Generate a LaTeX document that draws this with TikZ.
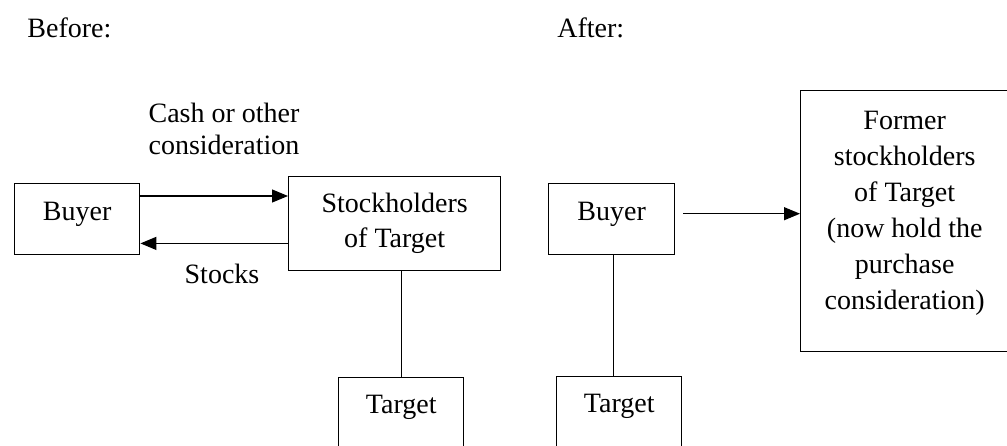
\documentclass[tikz,border=0pt]{standalone}
\usepackage{fontspec}
\setmainfont{Liberation Serif}
\usetikzlibrary{arrows.meta}
\usetikzlibrary{positioning}

\tikzset{
    party/.style={
        rectangle, anchor=north west, align=center,
        inner sep=0pt, draw=black, line width=0.7pt,
        font=\fontsize{14}{17.5}\selectfont,
    },
    flow/.style={-{Triangle[length=8pt,width=6.5pt]}, line width=0.6pt},
    tie/.style={line width=0.6pt},
    caption/.style={
        align=center, inner sep=0pt,
        font=\fontsize{14}{16}\selectfont,
    },
}

\begin{document}
\begin{tikzpicture}[x=0.5pt, y=-0.5pt]
        \useasboundingbox (0,0) rectangle (1007,445);
        \clip (0,0) rectangle (1007,445);

        \node (before) at(27,37) [caption, anchor=base west] {Before:};
        \node (after) at(557,37) [caption, anchor=base west] {After:};

        \node (buyer) at(14,183) [
            party, text depth=8pt,
            minimum width=62.5pt, minimum height=35.5pt,
        ] {Buyer};
        \node (stock) at(288,176) [
            party,
            minimum width=106pt, minimum height=47pt,
        ] {Stockholders\\of Target};
        \node (target) at(338,377) [
            party, minimum width=62.5pt,
            text height=18pt, text depth=50pt,
        ] {Target};

        \node (cash) at(224,129) [caption] {Cash or other\\consideration};
        \node (stocks) at(222,274) [caption] {Stocks};

        \draw[flow] ([yshift=-6.5pt]buyer.north east) -- ([yshift=-6.5pt]buyer.north east -| stock.west);
        \draw[flow] ([yshift=6pt]buyer.south east -| stock.west) -- ([yshift=6pt]buyer.south east);
        \draw[tie] (target.north) -- (target.north |- stock.south);

        \node (buyer2) at(548,183) [
            party, text depth=8pt,
            minimum width=63pt, minimum height=35.5pt,
        ] {Buyer};
        \node (target2) at(556,376) [
            party, minimum width=62.5pt,
            text height=18pt, text depth=50pt,
        ] {Target};
        \node (former) at(800,90) [
            party, text depth=11pt,
            minimum width=104pt, minimum height=130.5pt,
            font=\fontsize{14}{18}\selectfont,
        ] {Former\\stockholders\\of Target\\(now hold the\\purchase\\consideration)};

        \draw[flow] ([xshift=4pt,yshift=2.75pt]buyer2.east) -- ([yshift=2.75pt]buyer2.east -| former.west);
        \draw[tie] ([xshift=1pt]buyer2.south) -- ([xshift=1pt]buyer2.south |- target2.north);
\end{tikzpicture}
\end{document}
